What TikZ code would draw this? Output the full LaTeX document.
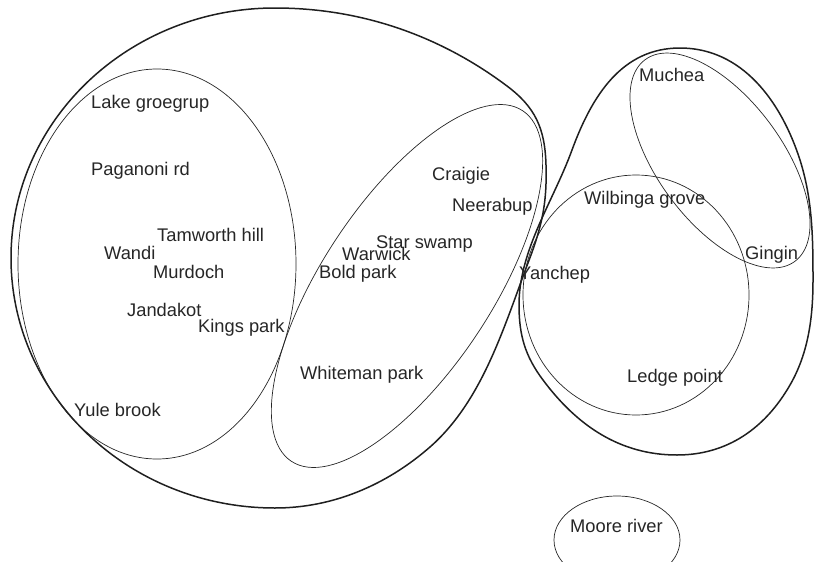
\documentclass[tikz,border=0pt]{standalone}
\usepackage{fontspec}
\setmainfont{Liberation Sans}
\begin{document}
\begin{tikzpicture}[x=1pt,y=-1pt,
  thickline/.style={line width=1.5pt, draw=black!88},
  thinline/.style={line width=0.7pt, draw=black!85},
  lbl/.style={anchor=base west, inner sep=0pt, text=black!85, font=\fontsize{18.3}{20}\selectfont}]
\useasboundingbox (0,0) rectangle (814,562);
\clip (0,0) rectangle (814,562);
% big left blob
\draw[thickline] (275,8)
  .. controls (360,8) and (439,35) .. (507,86)
  .. controls (535,107) and (545,128) .. (546,165)
  .. controls (547,200) and (543,222) .. (531,255)
  .. controls (505,323) and (484,399.5) .. (430,447)
  .. controls (386.5,485) and (333,508) .. (275,508)
  .. controls (129.2,508) and (11,396) .. (11,258)
  .. controls (11,120) and (129.2,8) .. cycle;
% right blob
\draw[thickline] (680,48)
  .. controls (742,48) and (781,101) .. (800,160)
  .. controls (812.6,200) and (813,238) .. (813,280)
  .. controls (813,317) and (808.5,353) .. (790,385)
  .. controls (765,428.5) and (727,455) .. (677,455)
  .. controls (620,455) and (577,425.6) .. (543,380)
  .. controls (525,356) and (519,335) .. (519,305)
  .. controls (519,250) and (553,202) .. (572,150)
  .. controls (592,95.5) and (622,48) .. cycle;
% inner left ellipse
\draw[thinline] (157,264) ellipse [x radius=139, y radius=195];
% middle tilted ellipse
\draw[thinline, rotate around={56.6:(407,286)}] (407,286) ellipse [x radius=210, y radius=85];
% Muchea ellipse
\draw[thinline, rotate around={-53.4:(720,160.5)}] (720,160.5) ellipse [x radius=125.6, y radius=62.2];
% Wilbinga circle
\draw[thinline] (636,295) ellipse [x radius=113, y radius=120];
% Moore river ellipse
\draw[thinline] (617,540) ellipse [x radius=63, y radius=44];
% labels
\node[lbl] (lake) at (91,108) {Lake groegrup};
\node[lbl] (pag) at (91,175) {Paganoni rd};
\node[lbl] (tam) at (157,241) {Tamworth hill};
\node[lbl] (wandi) at (104,259) {Wandi};
\node[lbl] (mur) at (153,278) {Murdoch};
\node[lbl] (jan) at (127,316) {Jandakot};
\node[lbl] (kings) at (198,332) {Kings park};
\node[lbl] (yule) at (74,416) {Yule brook};
\node[lbl] (craigie) at (432,180) {Craigie};
\node[lbl] (neer) at (452,211) {Neerabup};
\node[lbl] (star) at (376,248) {Star swamp};
\node[lbl] (warwick) at (342,260) {Warwick};
\node[lbl] (bold) at (319,278) {Bold park};
\node[lbl] (white) at (300,379) {Whiteman park};
\node[lbl] (yanchep) at (519,279) {Yanchep};
\node[lbl] (muchea) at (639,81) {Muchea};
\node[lbl] (wilb) at (584,204) {Wilbinga grove};
\node[lbl] (gingin) at (745,259) {Gingin};
\node[lbl] (ledge) at (627,382) {Ledge point};
\node[lbl] (moore) at (570,532) {Moore river};
\end{tikzpicture}
\end{document}
